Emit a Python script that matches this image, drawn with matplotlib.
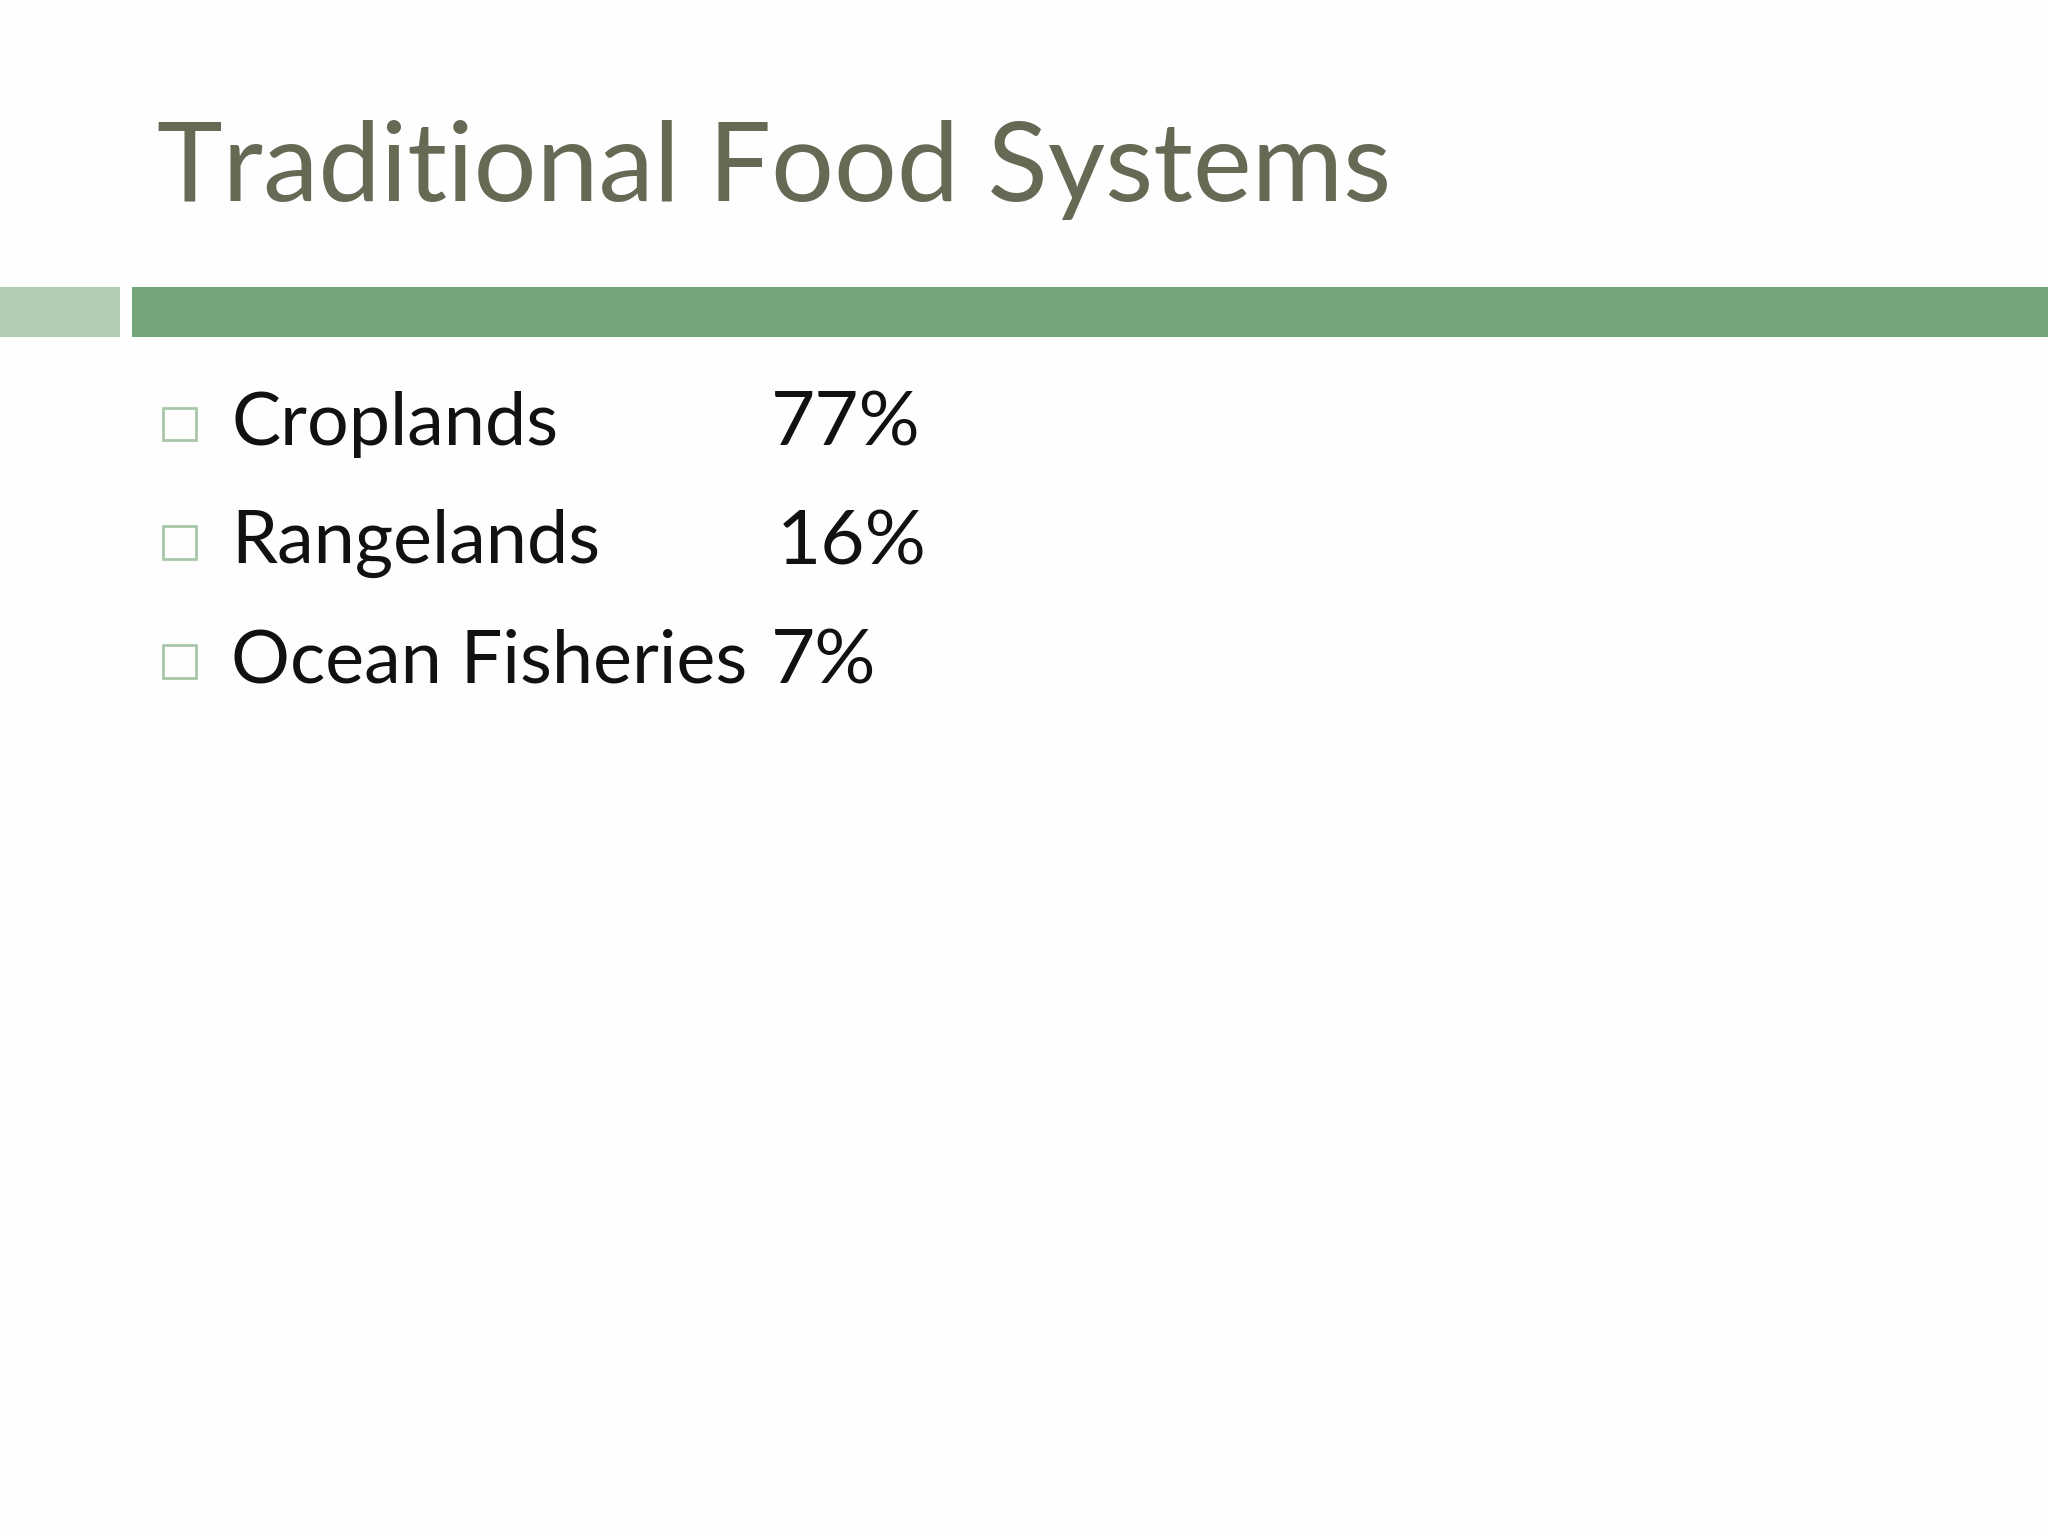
import matplotlib
matplotlib.use("Agg")
import matplotlib.pyplot as plt
from matplotlib.patches import Rectangle

title = "Traditional Food Systems"
categories = ["Croplands", "Rangelands", "Ocean Fisheries"]
shares = ["77%", "16%", "7%"]

W, H = 1568, 1176  # layout in reference pixel units
fig = plt.figure(figsize=(20.48, 15.36), dpi=100)
ax = fig.add_axes([0, 0, 1, 1])
ax.set_xlim(0, W)
ax.set_ylim(H, 0)
ax.axis("off")
fig.patch.set_facecolor("#fefefe")

ax.text(120, 130, title, fontsize=80, color="#656a55", family="Lato",
        va="center", ha="left")

ax.add_patch(Rectangle((0, 220), 92, 38, color="#b3cdb3", lw=0))
ax.add_patch(Rectangle((101, 220), W - 101, 38, color="#74a479", lw=0))

pct_x = [590, 595, 590]
for i, (cat, pct) in enumerate(zip(categories, shares)):
    y = 325 + i * 91
    ax.add_patch(Rectangle((125, y - 13), 25, 25, fill=False,
                           edgecolor="#a9c6a9", lw=2))
    ax.text(177, y, cat, fontsize=53, color="#111111", family="Lato",
            va="center", ha="left")
    ax.text(pct_x[i], y, pct, fontsize=55, color="#111111", family="Lato",
            va="center", ha="left")

fig.savefig("out.png", dpi=100, facecolor=fig.get_facecolor())
